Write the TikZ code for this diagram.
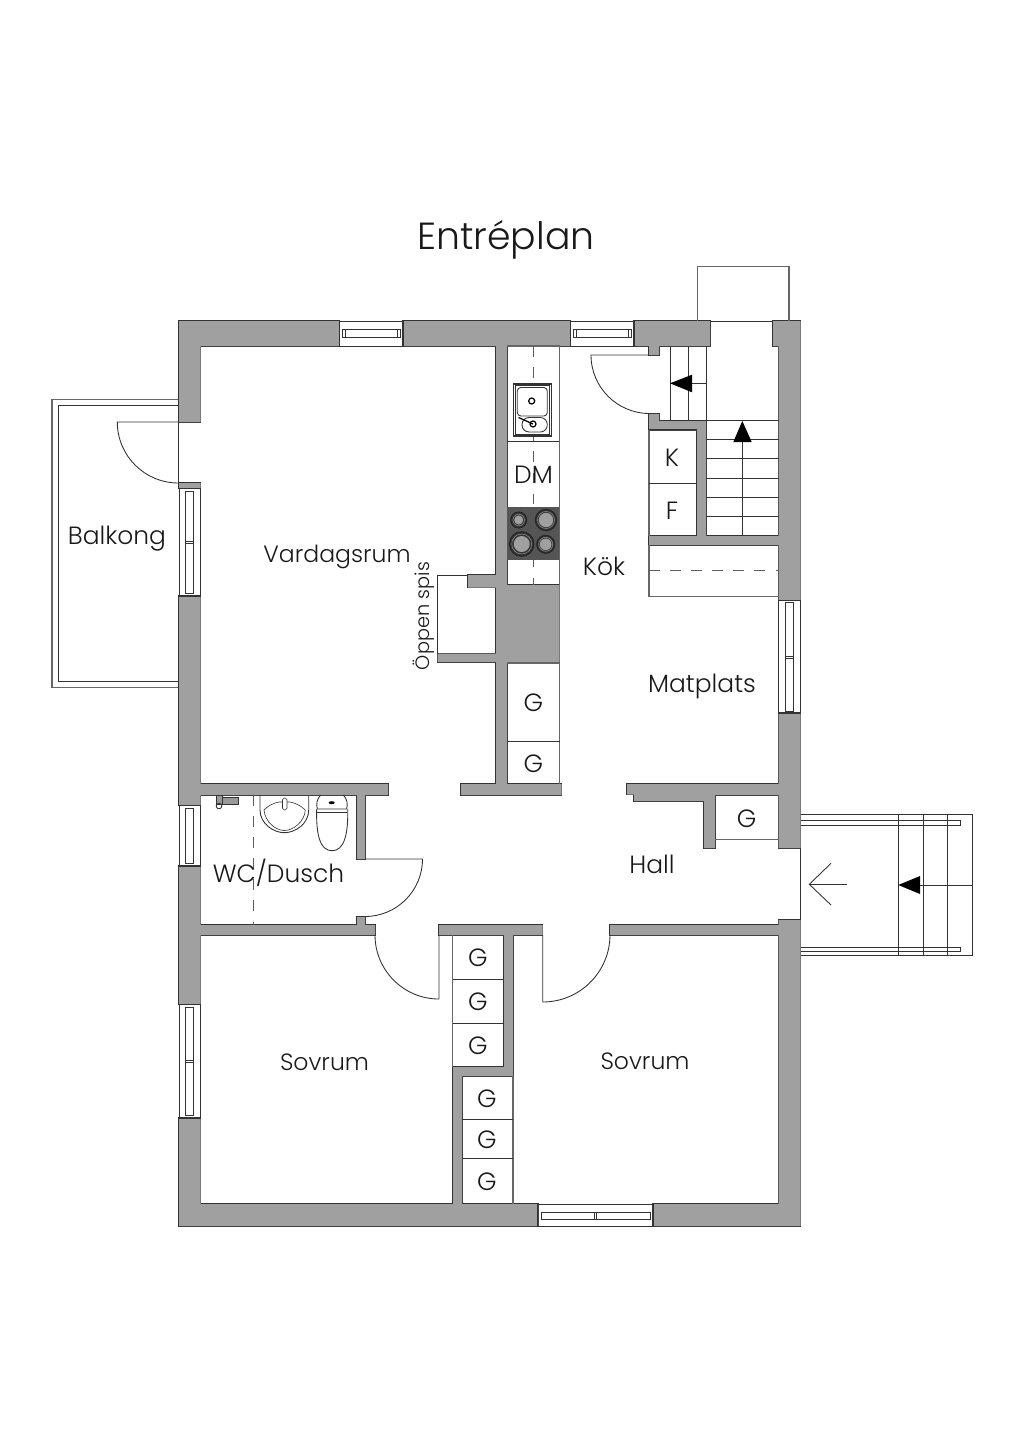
\documentclass[tikz,border=0pt]{standalone}
\usepackage{fontspec}
\setmainfont{Poppins}[UprightFont=* Light]
\definecolor{wallgrey}{HTML}{A0A0A0}
\definecolor{inkgrey}{HTML}{333333}
\definecolor{hobgrey}{HTML}{555555}
\newcommand{\wallpath}{
(17.9,-32.1) rectangle (33.9,-34.6)
(40.3,-32.1) rectangle (57,-34.6)
(63.4,-32.1) rectangle (71,-34.6)
(77.3,-32.1) rectangle (80.05,-34.6)
(77.85,-34.6) rectangle (80.05,-60)
(77.85,-71.3) rectangle (80.05,-84.8)
(77.85,-92) rectangle (80.05,-122.6)
(17.9,-120.4) rectangle (53.8,-122.6)
(65.3,-120.4) rectangle (80.05,-122.6)
(17.9,-32.1) rectangle (20.05,-42.2)
(17.9,-48.3) rectangle (20.05,-48.8)
(17.9,-59.6) rectangle (20.05,-80.5)
(17.9,-86.6) rectangle (20.05,-100.4)
(17.9,-111.8) rectangle (20.05,-122.6)
(49.6,-34.6) rectangle (50.7,-78.4)
(49.6,-58.5) rectangle (55.95,-66.3)
(46.1,-78.4) rectangle (56.15,-79.5)
(46.8,-57.5) rectangle (49.6,-58.75)
(43.75,-65.35) rectangle (49.6,-66.2)
(20.05,-78.4) rectangle (38.8,-79.5)
(35.7,-79.5) rectangle (36.5,-85.9)
(35.7,-91.7) rectangle (36.5,-92.5)
(20.05,-92.5) rectangle (37.5,-93.5)
(64.9,-34.6) rectangle (65.9,-35.5)
(64.9,-41.4) rectangle (65.9,-42.1)
(64.9,-42.1) rectangle (70.6,-43)
(69.7,-42.1) rectangle (70.6,-53.6)
(64.9,-53.6) rectangle (77.85,-54.5)
(62.7,-78.4) -- (77.85,-78.4) -- (77.85,-79.5) -- (71.5,-79.5) -- (71.5,-84.8) -- (70.4,-84.8) -- (70.4,-80.1) -- (63.4,-80.1) -- (63.4,-79.45) -- (62.7,-79.45) -- cycle
(43.9,-92.5) rectangle (54.27,-93.5)
(50.4,-93.5) rectangle (51.3,-107.6)
(45.3,-106.7) rectangle (51.3,-107.6)
(45.3,-106.7) rectangle (46.2,-120.4)
(61,-92.5) rectangle (77.85,-93.5)
}
\tikzset{
wallline/.style={draw=inkgrey,line width=0.85pt},
wallfill/.style={fill=wallgrey},
thinline/.style={draw=inkgrey,line width=0.5pt},
fineline/.style={draw=inkgrey,line width=0.35pt},
greyline/.style={draw=inkgrey!75,line width=0.6pt},
dashline/.style={draw=inkgrey!80,line width=0.5pt,dash pattern=on 6pt off 6pt},
solidtip/.style={fill=black},
burnerline/.style={draw=black!85,line width=0.6pt,fill=hobgrey!60!black},
burnerring/.style={draw=wallgrey,line width=0.25pt},
roomlabel/.style={font=\fontsize{14.2}{16}\selectfont,inner sep=0pt,text=black!90},
widelabel/.style={font=\fontsize{13.4}{16}\selectfont,inner sep=0pt,text=black!90},
titlelabel/.style={font=\fontsize{21.5}{26}\selectfont,inner sep=0pt,text=black!90}
}
\begin{document}
\begin{tikzpicture}[scale=0.2]
\useasboundingbox (0,0) rectangle (102.4,-144.8);
\draw [wallline] \wallpath;
\fill [wallfill] \wallpath;
\draw [thinline] (17.83,-42.2) -- (17.83,-48.3);
\draw [thinline] (80.05,-84.8) -- (80.05,-92);
\draw [thinline] (71,-32.1) -- (77.3,-32.1);
\draw [greyline] (69.73,-32.1) -- (69.73,-26.67) -- (78.9,-26.67) -- (78.9,-32.1);
\draw [thinline] (33.9,-32.1) rectangle (40.3,-34.6);
\draw [fineline] (34.2,-32.93) rectangle (40,-33.77);
\draw [fineline] (34.5,-32.93) -- (34.5,-33.77);
\draw [fineline] (39.7,-32.93) -- (39.7,-33.77);
\draw [thinline] (57,-32.1) rectangle (63.4,-34.6);
\draw [fineline] (57.3,-32.93) rectangle (63.1,-33.77);
\draw [fineline] (57.6,-32.93) -- (57.6,-33.77);
\draw [fineline] (62.8,-32.93) -- (62.8,-33.77);
\draw [thinline] (53.77,-120.4) rectangle (65.33,-122.6);
\draw [fineline] (54.1,-121.2) rectangle (65,-121.97);
\draw [fineline] (59.4,-121.2) -- (59.4,-121.97);
\draw [fineline] (59.65,-121.2) -- (59.65,-121.97);
\draw [thinline] (17.9,-48.8) rectangle (20.05,-59.6);
\draw [fineline] (18.53,-49.1) rectangle (19.37,-59.3);
\draw [fineline] (18.53,-54.1) -- (19.37,-54.1);
\draw [fineline] (18.53,-54.3) -- (19.37,-54.3);
\draw [thinline] (17.9,-80.5) rectangle (20.05,-86.6);
\draw [fineline] (18.53,-80.8) rectangle (19.37,-86.3);
\draw [thinline] (17.9,-100.4) rectangle (20.05,-111.8);
\draw [fineline] (18.53,-100.7) rectangle (19.37,-111.5);
\draw [fineline] (18.53,-106) -- (19.37,-106);
\draw [fineline] (18.53,-106.2) -- (19.37,-106.2);
\draw [thinline] (77.85,-60) rectangle (80.05,-71.3);
\draw [fineline] (78.57,-60.25) rectangle (79.37,-71.15);
\draw [fineline] (78.57,-65.6) -- (79.37,-65.6);
\draw [fineline] (78.57,-65.8) -- (79.37,-65.8);
\draw [greyline] (17.83,-39.93) -- (5.2,-39.93) -- (5.2,-68.77) -- (17.83,-68.77);
\draw [thinline] (17.83,-40.57) -- (5.8,-40.57) -- (5.8,-68.17) -- (17.83,-68.17);
\draw [thinline] (17.83,-42.2) -- (11.73,-42.2) arc (180:270:6.1);
\draw [thinline] (64.9,-35.5) -- (59.1,-35.5) arc (180:270:5.85);
\draw [thinline] (36.5,-85.9) -- (42.25,-85.9) arc (0:-90:5.75);
\draw [thinline] (43.9,-93.5) -- (43.9,-99.9) arc (270:180:6.4);
\draw [thinline] (54.27,-93.5) -- (54.27,-100.2) arc (-90:0:6.73);
\draw [greyline] (50.7,-34.6) -- (55.93,-34.6) -- (55.93,-58.5);
\draw [thinline] (50.7,-44.17) -- (55.93,-44.17);
\draw [dashline] (53.33,-34.6) -- (53.33,-58.5);
\fill [hobgrey] (50.7,-50.7) rectangle (55.93,-55.97);
\draw [thinline,fill=white,line width=0.7pt] (51.33,-38.4) rectangle (55.13,-43.6);
\draw [fineline,fill=white] (51.5,-38.55) rectangle (54.97,-43.45);
\draw [thinline,rounded corners=2pt] (51.73,-38.75) rectangle (54.73,-41.6);
\draw [thinline,rounded corners=4pt] (52.2,-41.75) rectangle (54.73,-43.2);
\draw [draw=black,line width=0.7pt] (53.17,-40.1) circle (0.3);
\draw [draw=black,line width=0.7pt] (53.3,-42.4) circle (0.3);
\draw [draw=black,line width=0.7pt] (51.85,-41.75) -- (53.3,-42.4);
\draw [burnerline] (51.87,-52) circle (0.8);
\draw [burnerring] (51.87,-52) circle (0.58);
\fill [wallgrey] (51.87,-52) circle (0.45);
\draw [burnerline] (54.6,-52) circle (1.07);
\draw [burnerring] (54.6,-52) circle (0.85);
\fill [wallgrey] (54.6,-52) circle (0.72);
\draw [burnerline] (52.17,-54.4) circle (1.23);
\draw [burnerring] (52.17,-54.4) circle (1.0);
\fill [wallgrey] (52.17,-54.4) circle (0.8);
\draw [burnerline] (54.57,-54.43) circle (0.9);
\draw [burnerring] (54.57,-54.43) circle (0.7);
\fill [wallgrey] (54.57,-54.43) circle (0.58);
\draw [greyline] (50.7,-66.3) -- (55.95,-66.3) -- (55.95,-78.4);
\draw [thinline] (50.7,-74.13) -- (55.95,-74.13);
\draw [thinline] (46.8,-57.5) -- (43.73,-57.5) -- (43.73,-65.35);
\draw [greyline] (64.9,-42.95) -- (64.9,-53.6);
\draw [thinline] (64.9,-48.33) -- (69.7,-48.33);
\draw [thinline] (64.9,-42.95) -- (69.7,-42.95);
\draw [thinline] (65.9,-42) -- (77.85,-42);
\draw [thinline] (67,-34.6) -- (67,-42);
\draw [thinline] (68.83,-34.6) -- (68.83,-42);
\draw [thinline] (70.67,-34.6) -- (70.67,-42);
\draw [thinline] (69.2,-38.33) -- (70.67,-38.33);
\fill [solidtip] (67,-38.33) -- (69.2,-37.47) -- (69.2,-39.23);
\draw [thinline] (70.6,-43.93) -- (77.85,-43.93);
\draw [thinline] (70.6,-45.87) -- (77.85,-45.87);
\draw [thinline] (70.6,-47.8) -- (77.85,-47.8);
\draw [thinline] (70.6,-49.73) -- (77.85,-49.73);
\draw [thinline] (70.6,-51.67) -- (77.85,-51.67);
\draw [thinline] (74.23,-44.2) -- (74.23,-53.6);
\fill [solidtip] (74.23,-42.1) -- (73.33,-44.2) -- (75.17,-44.2);
\draw [greyline] (64.9,-54.5) -- (64.9,-59.67) -- (77.85,-59.67);
\draw [dashline] (64.9,-57.07) -- (77.85,-57.07);
\draw [greyline] (71.5,-83.93) -- (77.85,-83.93);
\draw [greyline] (45.27,-93.5) -- (45.27,-106.7);
\draw [thinline] (45.27,-97.93) -- (50.4,-97.93);
\draw [thinline] (45.27,-102.3) -- (50.4,-102.3);
\draw [greyline] (51.3,-107.6) -- (51.3,-120.4);
\draw [thinline] (46.2,-111.9) -- (51.3,-111.9);
\draw [thinline] (46.2,-115.87) -- (51.3,-115.87);
\draw [dashline] (25.33,-79.5) -- (25.33,-92.5);
\draw [thinline] (26,-79.5) -- (26,-81) .. controls (26,-82.4) and (27.4,-83.27) .. (28.43,-83.27) .. controls (29.5,-83.27) and (30.87,-82.4) .. (30.87,-81) -- (30.87,-79.5);
\draw [fineline] (26.4,-81) .. controls (26.5,-82.2) and (27.6,-83.05) .. (28.43,-83.05) .. controls (29.3,-83.05) and (30.45,-82.2) .. (30.53,-81) .. controls (30,-80.5) and (29.5,-80.3) .. (29,-80.2) -- (27.9,-80.2) .. controls (27.4,-80.3) and (26.9,-80.5) .. (26.4,-81);
\draw [fineline,fill=white,rounded corners=1pt] (28.25,-79.8) rectangle (28.7,-81);
\draw [thinline] (31.67,-80.9) .. controls (31.6,-83.5) and (32,-85.07) .. (33.2,-85.07) .. controls (34.4,-85.07) and (34.83,-83.5) .. (34.77,-80.9);
\draw [thinline] (32.07,-79.5) .. controls (31.7,-79.9) and (31.6,-80.3) .. (31.73,-80.9) -- (34.67,-80.9) .. controls (34.8,-80.3) and (34.7,-79.9) .. (34.33,-79.5);
\draw [fineline] (31.73,-81.2) -- (34.67,-81.2);
\fill [black] (33.17,-80.27) ellipse (0.3 and 0.15);
\draw [fineline,fill=black!40] (21.6,-79.5) rectangle (22.2,-80.4);
\draw [fineline,fill=black!40] (22.2,-79.7) rectangle (23.8,-80.4);
\draw [thinline] (21.9,-80.6) circle (0.28);
\node [titlelabel] (titleplan) at (50.6,-23.95) {Entréplan};
\node [widelabel] (vardagsrum) at (33.7,-55.65) {Vardagsrum};
\node [roomlabel] (balkong) at (11.7,-53.85) {Balkong};
\node [roomlabel] (kok) at (60.4,-56.6) {Kök};
\node [roomlabel] (dm) at (53.35,-47.5) {DM};
\node [roomlabel] (frys) at (67.2,-45.75) {K};
\node [roomlabel] (kyl) at (67.2,-51.05) {F};
\node [roomlabel] (matplats) at (70.2,-68.65) {Matplats};
\node [roomlabel] (hall) at (65.2,-86.45) {Hall};
\node [roomlabel] (wcdusch) at (27.85,-87.3) {WC/Dusch};
\node [widelabel] (sovruma) at (32.45,-106.2) {Sovrum};
\node [widelabel] (sovrumb) at (64.5,-106.1) {Sovrum};
\node [roomlabel,rotate=90,font=\fontsize{11}{13}\selectfont] (oppenspis) at (42.4,-61.6) {Öppen spis};
\node [roomlabel] (ga) at (53.35,-70.3) {G};
\node [roomlabel] (gb) at (53.35,-76.35) {G};
\node [roomlabel] (gc) at (74.65,-81.85) {G};
\node [roomlabel] (gd) at (47.8,-95.75) {G};
\node [roomlabel] (ge) at (47.8,-100.15) {G};
\node [roomlabel] (gf) at (47.8,-104.55) {G};
\node [roomlabel] (gg) at (48.7,-109.85) {G};
\node [roomlabel] (gh) at (48.7,-113.95) {G};
\node [roomlabel] (gi) at (48.7,-118.15) {G};
\draw [thinline] (80.05,-81.47) -- (97.27,-81.47) -- (97.27,-95.53) -- (80.05,-95.53);
\draw [fineline] (80.05,-82) -- (96.03,-82) -- (96.03,-82.53) -- (80.05,-82.53);
\draw [fineline] (80.05,-94.73) -- (96.03,-94.73) -- (96.03,-95.17) -- (80.05,-95.17);
\draw [thinline] (89.83,-81.47) -- (89.83,-95.53);
\draw [thinline] (92.3,-81.47) -- (92.3,-95.53);
\draw [thinline] (94.77,-81.47) -- (94.77,-95.53);
\draw [thinline] (92,-88.5) -- (97.27,-88.5);
\fill [solidtip] (89.83,-88.5) -- (92,-87.6) -- (92,-89.4);
\draw [thinline] (84.67,-88.43) -- (80.93,-88.43);
\draw [thinline] (83.1,-86.33) -- (80.93,-88.43) -- (83.1,-90.5);
\end{tikzpicture}
\end{document}
